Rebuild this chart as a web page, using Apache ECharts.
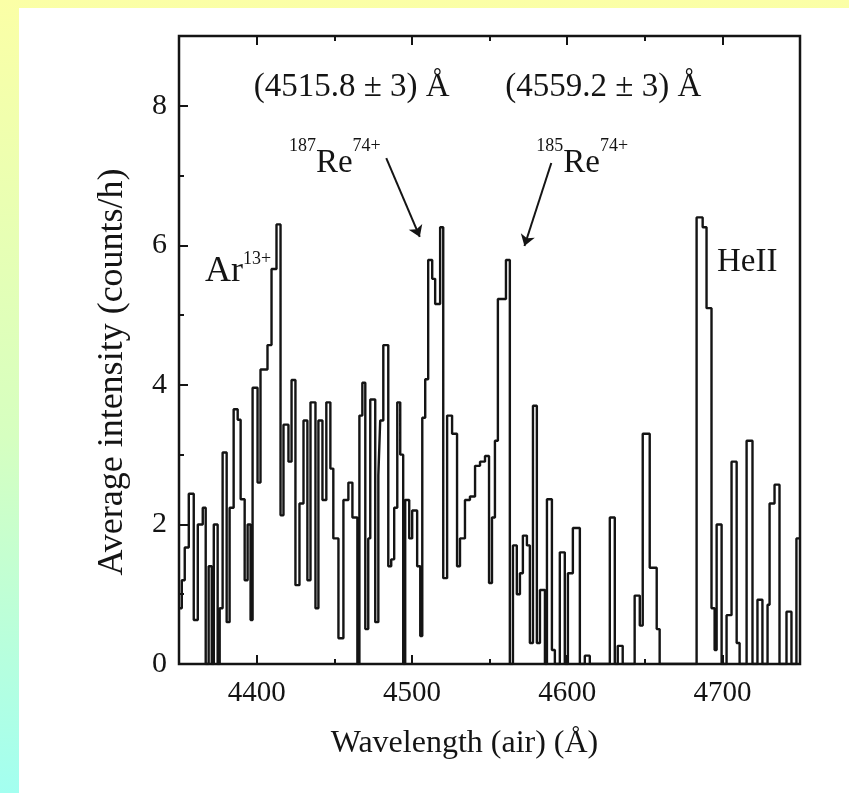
<!DOCTYPE html>
<html>
<head>
<meta charset="utf-8">
<script src="https://cdn.jsdelivr.net/npm/echarts@6/dist/echarts.min.js"></script>
<style>
html,body{margin:0;padding:0;width:849px;height:793px;overflow:hidden;}
body{background:linear-gradient(180deg,#fbffa6 0%,#d6ffc0 55%,#a3fff0 100%);}
#paper{position:absolute;left:19px;top:8px;right:0;bottom:0;background:#ffffff;}
#chart{position:absolute;left:0;top:0;width:849px;height:793px;}
</style>
</head>
<body>
<div id="paper"></div>
<div id="chart"></div>
<script>
// ---- data ----
const xMin = 4350, xMax = 4750;
const yMin = 0, yMax = 9;
const xMajorTicks = [4400, 4500, 4600, 4700];
const xMinorTicks = [4450, 4550, 4650];
const yMajorTicks = [0, 2, 4, 6, 8];
const yMinorTicks = [1, 3, 5, 7];

// left edges of histogram bins (Å)
const binEdges = [
  4350,4351.8,4353.7,4356.3,4359.5,4362.1,4365.3,4367.2,4369.1,4371.1,
  4372.4,4374.9,4376.2,4378.1,4380.7,4382.6,4385.2,4387.8,4389.7,4392.3,
  4394.2,4396.1,4397.4,4400.6,4402.5,4407.0,4409.6,4412.8,4415.4,4417.3,
  4420.5,4422.5,4425.0,4427.6,4430.2,4432.7,4434.7,4437.9,4439.8,4442.4,
  4444.9,4447.5,4449.4,4452.7,4455.9,4459.1,4461.7,4464.9,4466.2,4468.1,
  4470.0,4471.9,4473.2,4476.4,4478.4,4479.6,4481.6,4484.8,4486.7,4488.6,
  4490.6,4492.5,4494.4,4495.7,4498.3,4500.2,4503.4,4505.4,4506.7,4508.6,
  4510.5,4513.1,4515.0,4518.2,4520.2,4522.7,4525.9,4529.1,4531.0,4534.2,
  4537.4,4540.7,4543.9,4547.1,4549.7,4551.6,4553.5,4555.4,4560.6,4563.1,
  4565.1,4567.6,4569.6,4571.5,4574.1,4576.0,4578.0,4580.5,4582.5,4585.7,
  4587.0,4590.2,4592.1,4595.3,4598.5,4600.5,4603.7,4608.2,4611.4,4614.6,
  4627.5,4630.7,4632.6,4635.8,4643.5,4646.8,4648.7,4653.2,4657.7,4659.6,
  4683.4,4687.3,4689.8,4693.0,4695.0,4696.3,4699.5,4702.7,4705.9,4709.2,
  4711.1,4715.6,4719.4,4722.6,4725.8,4729.1,4730.4,4733.6,4736.8,4741.3,
  4744.5,4747.7
];
// average intensity (counts/h) in each bin
const intensity = [
  0.8,1.2,1.67,2.44,0.63,2.0,2.24,0,1.4,0,
  2.0,0,0.8,3.03,0.6,2.24,3.65,3.5,2.36,1.2,
  2.0,0.63,3.96,2.6,4.22,4.57,5.66,6.3,2.13,3.43,
  2.9,4.07,1.13,2.3,3.49,1.2,3.75,0.8,3.49,2.35,
  3.75,2.8,1.8,0.37,2.35,2.6,2.1,0,3.56,4.03,
  0.5,1.8,3.79,0.6,2.7,3.49,4.57,1.4,1.5,2.24,
  3.75,3.0,0,2.35,1.8,2.2,1.4,0.4,3.53,4.08,
  5.79,5.52,5.16,6.26,1.23,3.56,3.3,1.4,1.8,2.35,
  2.4,2.84,2.9,2.98,1.16,2.1,3.2,5.23,5.79,0,
  1.7,1.0,1.3,1.84,1.7,0.3,3.7,0.3,1.06,0,
  2.36,0.2,0,1.6,0,1.3,1.95,0,0.12,0,
  2.1,0,0.26,0,0.98,0.55,3.3,1.38,0.5,0,
  6.4,6.26,5.1,0.8,0.2,2.0,0,0.7,2.9,0.3,
  0,3.2,0,0.92,0,0.85,2.3,2.57,0,0.75,
  0,1.8
];

// text annotations, anchored in data coordinates [Å, counts/h]
const annoTexts = ['(4515.8 ± 3) Å', '(4559.2 ± 3) Å', '{s|187}{r|Re}{s|74+}', '{s|185}{r|Re}{s|74+}', '{a|Ar}{s|13+}', 'HeII'];
const annoCoords = [[4461.2, 8.27], [4623.3, 8.27], [4450.4, 7.18], [4609.7, 7.18], [4388.1, 5.62], [4716.0, 5.76]];
// arrows: [start, end] in data coordinates
const arrowCoords = [
  [[4483.5, 7.25], [4505.1, 6.12]],
  [[4589.8, 7.18], [4572.5, 5.99]]
];

// ---- chart ----
const serif = '"Liberation Serif","Times New Roman",serif';
const ink = '#141414';
const stepData = binEdges.map((e, i) => [e, intensity[i]]);
stepData.push([xMax, intensity[intensity.length - 1]]);

function tickAxisX(pos, vals, len, extra) {
  return Object.assign({
    type: 'value', min: xMin, max: xMax, position: pos,
    axisLine: { show: false }, splitLine: { show: false },
    axisTick: { show: true, inside: true, length: len, customValues: vals, lineStyle: { color: ink, width: 2 } },
    axisLabel: { show: false }
  }, extra || {});
}
function tickAxisY(vals, len, extra) {
  return Object.assign({
    type: 'value', min: yMin, max: yMax, position: 'left',
    axisLine: { show: false }, splitLine: { show: false },
    axisTick: { show: true, inside: true, length: len, customValues: vals, lineStyle: { color: ink, width: 2 } },
    axisLabel: { show: false }
  }, extra || {});
}

const richStyles = {
  s: { fontFamily: serif, fontSize: 18, lineHeight: 18, verticalAlign: 'top', color: ink },
  r: { fontFamily: serif, fontSize: 33, lineHeight: 51, color: ink },
  a: { fontFamily: serif, fontSize: 36, lineHeight: 44, color: ink }
};
const annoSizes = [33, 33, 33, 33, 36, 33];

const chart = echarts.init(document.getElementById('chart'));
chart.setOption({
  animation: false,
  backgroundColor: 'transparent',
  grid: { left: 179, right: 49, top: 36, bottom: 129, show: true, borderColor: ink, borderWidth: 2.5, backgroundColor: 'transparent', containLabel: false },
  xAxis: [
    tickAxisX('bottom', xMajorTicks, 9, {
      axisLabel: { show: true, customValues: xMajorTicks, formatter: v => String(v), fontFamily: serif, fontSize: 29, color: ink, margin: 15 },
      name: 'Wavelength (air) (Å)', nameLocation: 'middle', nameGap: 64,
      nameTextStyle: { fontFamily: serif, fontSize: 32, color: ink, padding: [0, 50, 0, 0] }
    }),
    tickAxisX('bottom', xMinorTicks, 5),
    tickAxisX('top', xMajorTicks, 9),
    tickAxisX('top', xMinorTicks, 5)
  ],
  yAxis: [
    tickAxisY(yMajorTicks, 9, {
      axisLabel: { show: true, customValues: yMajorTicks, formatter: v => String(v), fontFamily: serif, fontSize: 30, color: ink, margin: 12 },
      name: 'Average intensity (counts/h)', nameLocation: 'middle', nameGap: 48,
      nameTextStyle: { fontFamily: serif, fontSize: 36, color: ink, padding: [0, 44, 0, 0] }
    }),
    tickAxisY(yMinorTicks, 5)
  ],
  series: [{
    type: 'line', step: 'end', xAxisIndex: 0, yAxisIndex: 0,
    data: stepData, symbol: 'none', silent: true,
    lineStyle: { color: ink, width: 2.4 },
    markPoint: {
      silent: true, symbol: 'circle', symbolSize: 1,
      itemStyle: { color: 'rgba(0,0,0,0)' },
      data: annoTexts.map((t, i) => ({
        coord: annoCoords[i], value: 0,
        label: { show: true, position: 'inside', formatter: t, fontFamily: serif, fontSize: annoSizes[i], color: ink, rich: richStyles }
      }))
    },
    markLine: {
      silent: true, symbol: ['none', 'arrow'], symbolSize: 11,
      label: { show: false },
      lineStyle: { color: ink, width: 2, type: 'solid' },
      data: arrowCoords.map(a => [{ coord: a[0] }, { coord: a[1] }])
    }
  }]
});
</script>
</body>
</html>
